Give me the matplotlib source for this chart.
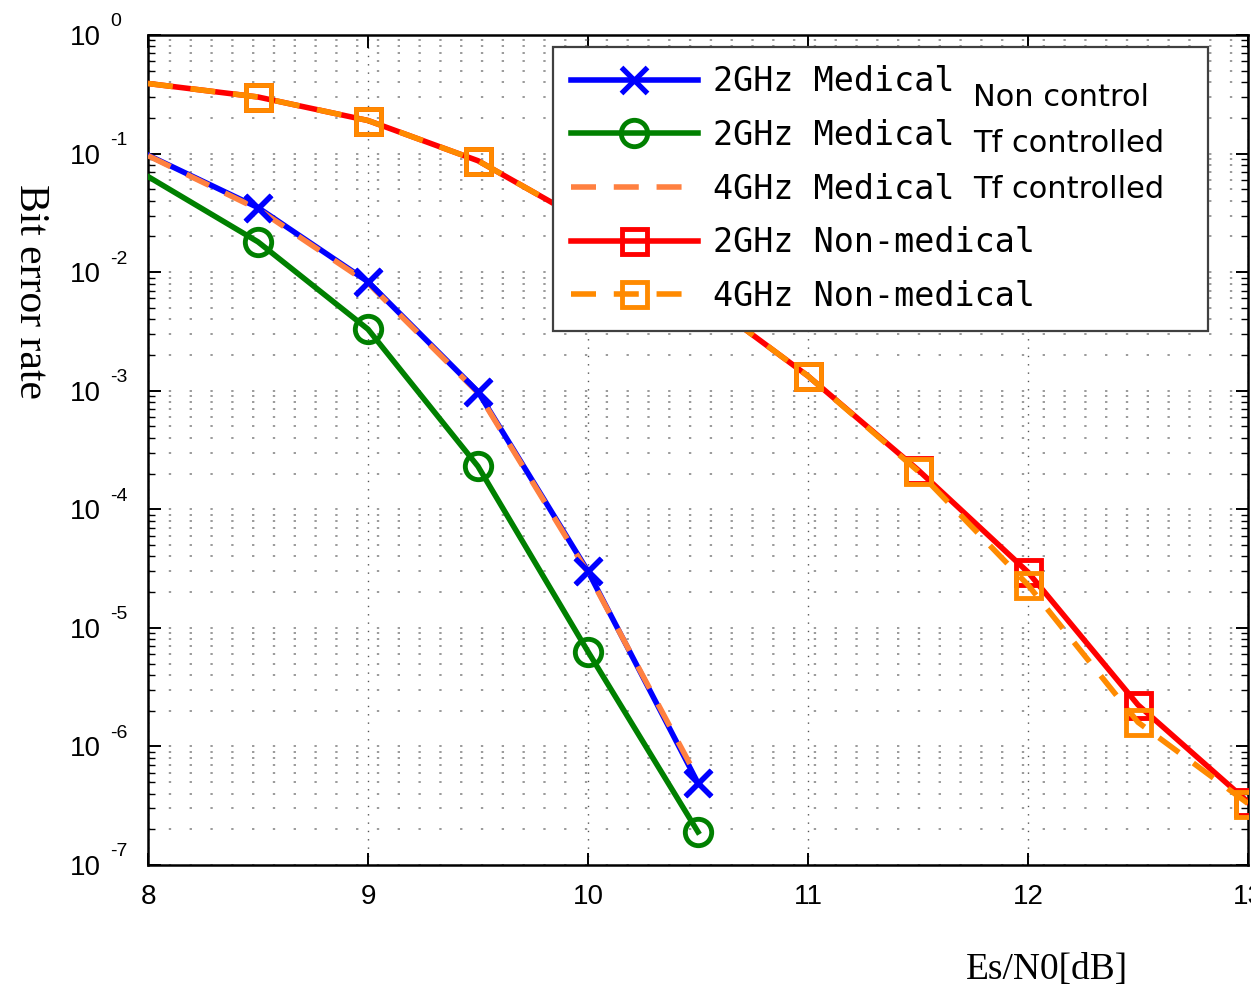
import math
import matplotlib
matplotlib.use("Agg")
import matplotlib.pyplot as plt
from matplotlib.ticker import LogLocator, FixedLocator, FuncFormatter, NullLocator
from matplotlib.transforms import blended_transform_factory, offset_copy

# ---------------- data ----------------
snr_med = [8.0, 8.5, 9.0, 9.5, 10.0, 10.5]
ber_2g_med_nc = [9.7e-2, 3.5e-2, 8.3e-3, 9.8e-4, 3.0e-5, 4.9e-7]
ber_2g_med_tf = [6.4e-2, 1.8e-2, 3.3e-3, 2.3e-4, 6.3e-6, 1.9e-7]
ber_4g_med_tf = [9.6e-2, 3.4e-2, 8.1e-3, 9.6e-4, 2.9e-5, 5.3e-7]

snr_nm = [8.0, 8.5, 9.0, 9.5, 10.0, 10.5, 11.0, 11.5, 12.0, 12.5, 13.0]
ber_2g_nm = [0.39, 0.30, 0.19, 0.087, 0.026, 6.5e-3, 1.33e-3, 2.15e-4, 2.95e-5, 2.24e-6, 3.4e-7]
ber_4g_nm = [0.39, 0.30, 0.19, 0.087, 0.026, 6.5e-3, 1.33e-3, 2.1e-4, 2.3e-5, 1.6e-6, 3.3e-7]

legend_main = ["2GHz Medical", "2GHz Medical", "4GHz Medical", "2GHz Non-medical", "4GHz Non-medical"]
legend_suffix = ["Non control", "Tf controlled", "Tf controlled"]

x_ticks = [8, 9, 10, 11, 12, 13]
y_exps = [0, -1, -2, -3, -4, -5, -6, -7]

BLUE = "#0000FF"
GREEN = "#008000"
ORANGE_MED = "#FF8040"
RED = "#FF0000"
ORANGE_NM = "#FF8A00"

fig = plt.figure(figsize=(12.51, 9.89), dpi=100)
ax = fig.add_axes([148 / 1251, 1 - 865 / 989, 1100 / 1251, 830 / 989])

lw = 4.0
dash = (4.5, 3.2)
mk = dict(markevery=slice(1, None))

l_blue, = ax.plot(snr_med, ber_2g_med_nc, color=BLUE, lw=lw, marker="x", ms=19, mew=3.8, zorder=3, **mk)
l_green, = ax.plot(snr_med, ber_2g_med_tf, color=GREEN, lw=lw, marker="o", ms=19, mew=3.5,
                   mfc="none", zorder=3, **mk)
l_omed, = ax.plot(snr_med, ber_4g_med_tf, color=ORANGE_MED, lw=lw, ls=(0, dash), zorder=4)
ax.plot(snr_med, ber_2g_med_nc, color=BLUE, ls="none", marker="x", ms=19, mew=3.8, zorder=5, **mk)
l_red, = ax.plot(snr_nm, ber_2g_nm, color=RED, lw=lw, marker="s", ms=18, mew=3.5,
                 mfc="none", zorder=3, **mk)
l_onm, = ax.plot(snr_nm, ber_4g_nm, color=ORANGE_NM, lw=lw, ls=(0, dash), marker="s", ms=18,
                 mew=3.5, mfc="none", zorder=4, **mk)

ax.set_yscale("log")
ax.set_xlim(8, 13)
ax.set_ylim(1e-7, 1)

ax.xaxis.set_major_locator(FixedLocator(x_ticks))
ax.xaxis.set_minor_locator(NullLocator())
ax.yaxis.set_major_locator(FixedLocator([10.0 ** e for e in y_exps]))
ax.yaxis.set_minor_locator(LogLocator(base=10, subs=[2, 3, 4, 5, 6, 7, 8, 9], numticks=20))

ax.yaxis.set_major_formatter(FuncFormatter(lambda v, p: "10"))
ax.xaxis.set_major_formatter(FuncFormatter(lambda v, p: "%d" % v))

grid_kw = dict(color="#9a9a9a", lw=1.4, ls=(0, (1.2, 9.5)))
ax.grid(which="major", axis="y", **grid_kw)
ax.grid(which="minor", axis="y", **grid_kw)
ax.grid(which="major", axis="x", color="#555555", lw=1.0, ls=(0, (1, 5)))
ax.set_axisbelow(True)

for s in ax.spines.values():
    s.set_linewidth(1.8)
    s.set_color("black")

ax.tick_params(which="both", direction="in", top=True, right=True)
ax.tick_params(which="major", length=9, width=1.4)
ax.tick_params(which="minor", length=5, width=1.0)
ax.tick_params(axis="x", which="major", pad=14)
ax.tick_params(axis="y", which="major", pad=34)
for lab in ax.get_xticklabels() + ax.get_yticklabels():
    lab.set_fontfamily("Liberation Sans")
    lab.set_fontsize(20)

# exponents of the y tick labels
bt = blended_transform_factory(ax.transAxes, ax.transData)
for e in y_exps:
    ax.text(-38 / 1100, 10.0 ** e, "%d" % e, transform=offset_copy(bt, fig=fig, x=0, y=13, units="dots"),
            family="Liberation Sans", fontsize=14, ha="left", va="center", clip_on=False)

# legend
handles = [l_blue, l_green, l_omed, l_red, l_onm]
leg = ax.legend(handles, legend_main,
                loc="upper left", bbox_to_anchor=(0.368, 0.648, 0.596, 0.3375), mode="expand",
                prop={"family": "DejaVu Sans Mono", "size": 24}, handlelength=3.8,
                handletextpad=0.45, labelspacing=0.62, borderpad=0.55, borderaxespad=0.0,
                fancybox=False, framealpha=1.0, edgecolor="#404040")
leg.get_frame().set_linewidth(1.6)
leg.set_zorder(10)

suffix_y = [97, 143, 189]
for txt, yy in zip(legend_suffix, suffix_y):
    fig.text(973 / 1251, 1 - yy / 989, txt, family="DejaVu Sans", fontsize=22,
             ha="left", va="center", zorder=20)

fig.text(30 / 1251, 1 - 292 / 989, "Bit error rate", family="Liberation Serif", fontsize=30,
         rotation=270, ha="center", va="center")
fig.text(1047 / 1251, 1 - 970 / 989, "Es/N0[dB]", family="Liberation Serif", fontsize=27,
         ha="center", va="center")

fig.savefig("out.png", dpi=100)
